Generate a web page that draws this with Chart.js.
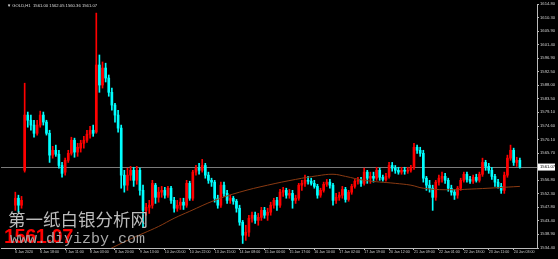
<!DOCTYPE html>
<html>
<head>
<meta charset="utf-8">
<script src="https://cdn.jsdelivr.net/npm/chart.js@4.4.1/dist/chart.umd.min.js"></script>
<style>
    html, body { margin: 0; padding: 0; background: #000; }
    #wrap { position: relative; width: 558px; height: 259px; overflow: hidden; background: #000; }
    #goldChart { position: absolute; left: 0; top: 0; }
    .txt { position: absolute; white-space: nowrap; line-height: 1; }
</style>
</head>
<body>
<div id="wrap">
    <canvas id="goldChart" width="558" height="259"></canvas>
    <div class="txt" style="left:7px;top:3px;font:4.2px 'Liberation Sans';color:#dcdcdc">▼ GOLD,H1&nbsp;&nbsp;1561.00 1562.05 1560.36 1561.07</div>
    <div class="txt" style="left:8px;top:206px;font:17.5px 'Noto Sans CJK SC';color:#bcbcbc">第一纸白银分析网</div>
    <div class="txt" style="left:4px;top:225px;font:bold 20px 'Liberation Sans';color:#ff0000;letter-spacing:-0.5px">1561.07</div>
    <div class="txt" style="left:10px;top:231px;font:15px 'Liberation Mono';color:#a8a8a8">www.diyizby.com</div>
</div>
<script>
// Tijd labels op de horizontale as (elke 8 kaarsen)
var timeLabels = ["6 Jan 2020", "6 Jan 18:00", "7 Jan 11:00", "8 Jan 03:00", "8 Jan 20:00", "9 Jan 13:00",
    "10 Jan 05:00", "10 Jan 22:00", "13 Jan 15:00", "14 Jan 08:00", "15 Jan 00:00", "15 Jan 17:00",
    "16 Jan 10:00", "17 Jan 02:00", "17 Jan 19:00", "20 Jan 12:00", "21 Jan 09:00", "22 Jan 01:00",
    "22 Jan 18:00", "23 Jan 11:00", "24 Jan 03:00"];

// Prijs labels op de verticale as
var priceTicks = [1534.40, 1538.90, 1543.40, 1547.80, 1552.30, 1556.80, 1561.20, 1565.70, 1570.10, 1574.60,
    1579.10, 1583.50, 1588.00, 1592.50, 1596.90, 1601.40, 1605.90, 1610.30, 1614.80];

// Kaarsen: open, hoog, laag, slot
var open = [
    1548.5,1550.8,1548.5,1560.0,1578.2,1576.5,1574.9,1572.2,1574.9,1578.2,
    1575.9,1572.2,1565.0,1566.6,1565.3,1561.6,1559.4,1563.3,1565.6,1569.9,
    1566.0,1567.3,1568.9,1569.9,1571.9,1573.2,1572.6,1594.7,1588.1,1593.7,
    1590.4,1585.7,1581.5,1578.2,1573.9,1558.4,1555.1,1558.4,1560.0,1556.7,
    1560.0,1553.4,1546.8,1547.8,1548.5,1555.1,1551.1,1552.8,1553.4,1551.8,
    1554.1,1550.1,1547.5,1548.5,1549.5,1548.5,1555.7,1550.8,1559.4,1560.7,
    1560.0,1561.6,1558.4,1556.7,1556.1,1550.8,1548.5,1555.1,1552.4,1550.1,
    1550.8,1549.8,1547.5,1542.9,1538.6,1539.6,1544.2,1545.2,1543.5,1544.5,
    1546.8,1545.2,1546.2,1548.5,1550.1,1548.5,1552.8,1553.4,1551.8,1552.4,
    1550.1,1550.8,1555.1,1555.7,1556.7,1556.4,1555.7,1554.7,1551.8,1553.4,
    1555.4,1556.1,1555.1,1550.1,1551.1,1551.8,1553.7,1550.4,1552.8,1554.7,
    1556.4,1556.7,1555.7,1559.4,1557.4,1558.0,1557.4,1560.0,1557.7,1557.0,
    1558.0,1561.6,1560.7,1560.0,1559.4,1560.0,1559.7,1560.0,1561.0,1567.6,
    1566.6,1565.6,1557.4,1555.1,1554.1,1551.1,1556.1,1557.4,1558.0,1556.7,
    1554.1,1552.8,1551.8,1554.1,1556.7,1558.7,1557.0,1556.4,1557.7,1556.7,
    1558.7,1562.6,1561.3,1560.0,1558.0,1556.1,1554.7,1553.4,1558.4,1564.0,
    1566.6,1562.6,1563.3];
var high = [
    1552.8,1551.8,1551.4,1588.7,1579.2,1578.2,1576.5,1576.5,1579.5,1579.2,
    1576.5,1573.2,1567.9,1568.3,1566.6,1562.6,1564.0,1566.6,1570.9,1570.6,
    1568.9,1569.9,1571.2,1573.2,1574.5,1574.9,1611.8,1598.0,1595.7,1595.3,
    1591.4,1587.1,1582.1,1579.8,1574.9,1560.0,1560.7,1561.3,1561.0,1561.3,
    1560.7,1555.1,1549.1,1550.1,1556.7,1555.7,1554.4,1554.7,1554.4,1554.7,
    1554.7,1551.1,1550.1,1550.8,1550.8,1556.7,1556.4,1560.0,1561.6,1562.3,
    1563.6,1562.3,1559.4,1557.4,1556.7,1551.8,1556.1,1556.1,1553.4,1551.8,
    1551.4,1550.4,1548.5,1543.5,1541.9,1545.2,1546.2,1546.2,1545.8,1547.8,
    1547.8,1547.5,1549.5,1550.8,1551.1,1553.7,1554.4,1554.1,1553.7,1553.4,
    1551.8,1555.7,1556.7,1558.4,1558.0,1557.4,1556.7,1555.4,1554.1,1556.1,
    1557.0,1557.0,1555.7,1552.4,1552.8,1554.7,1554.4,1553.4,1555.4,1557.0,
    1557.7,1557.7,1560.7,1560.0,1559.4,1559.4,1561.0,1560.7,1558.4,1559.0,
    1562.6,1562.6,1561.6,1561.0,1561.0,1561.0,1561.0,1561.6,1568.9,1568.3,
    1567.6,1566.6,1558.0,1556.7,1555.1,1556.7,1558.4,1559.4,1559.0,1557.4,
    1555.1,1553.7,1554.7,1557.4,1559.4,1559.4,1558.0,1558.4,1558.7,1559.4,
    1564.0,1563.3,1562.3,1561.0,1558.7,1557.0,1555.7,1559.4,1565.0,1568.3,
    1567.3,1564.3,1564.0];
var low = [
    1546.8,1546.2,1547.5,1559.4,1574.2,1573.2,1570.9,1571.6,1574.2,1574.9,
    1571.6,1562.6,1564.0,1564.6,1560.7,1557.7,1558.4,1562.6,1565.0,1564.3,
    1564.6,1566.0,1567.3,1569.2,1570.6,1571.2,1572.2,1585.7,1587.1,1589.1,
    1584.4,1579.8,1575.9,1572.6,1554.1,1552.8,1553.4,1556.7,1554.7,1555.4,
    1551.8,1541.2,1545.2,1545.8,1547.5,1549.1,1549.5,1551.1,1550.8,1551.1,
    1549.1,1546.2,1546.5,1547.1,1547.1,1547.8,1550.1,1550.1,1558.4,1558.7,
    1559.4,1557.4,1555.7,1554.7,1549.5,1547.5,1547.8,1551.4,1549.1,1549.1,
    1548.8,1546.2,1541.9,1535.9,1536.9,1538.2,1542.9,1542.5,1541.9,1543.5,
    1544.2,1543.5,1545.2,1547.5,1546.8,1547.8,1551.4,1550.8,1550.8,1547.5,
    1549.1,1550.1,1553.4,1554.7,1555.4,1555.1,1554.1,1550.8,1551.1,1552.8,
    1554.7,1554.1,1548.5,1549.1,1550.1,1550.8,1549.5,1549.8,1552.1,1554.1,
    1555.4,1554.7,1555.1,1555.7,1555.7,1556.1,1556.7,1556.7,1556.4,1556.4,
    1557.4,1559.7,1559.0,1558.7,1558.7,1558.7,1559.0,1559.4,1560.3,1565.6,
    1564.6,1556.1,1553.4,1552.8,1546.8,1550.1,1555.1,1556.1,1555.7,1553.1,
    1551.8,1550.4,1550.8,1553.4,1556.1,1556.1,1555.7,1555.7,1556.1,1556.1,
    1558.0,1560.0,1559.0,1557.0,1554.7,1554.1,1552.4,1552.4,1557.7,1563.3,
    1561.6,1561.3,1560.7];
var close = [
    1550.8,1548.5,1550.1,1578.2,1576.5,1574.9,1572.2,1574.9,1578.2,1575.9,
    1572.2,1565.0,1566.6,1565.3,1561.6,1559.0,1563.3,1565.6,1569.9,1566.0,
    1567.6,1568.9,1569.9,1571.9,1573.2,1572.2,1594.7,1588.1,1593.7,1590.4,
    1585.7,1581.5,1578.2,1573.9,1558.4,1555.1,1558.4,1560.0,1556.7,1560.0,
    1553.4,1546.8,1547.8,1548.5,1555.7,1551.1,1552.8,1553.4,1551.8,1554.1,
    1550.1,1547.5,1548.5,1549.5,1548.5,1555.7,1550.8,1559.4,1560.7,1560.0,
    1561.6,1558.4,1556.7,1556.1,1550.8,1548.5,1555.1,1552.4,1550.1,1550.8,
    1549.8,1547.5,1542.9,1538.6,1539.6,1544.2,1545.2,1543.5,1544.5,1546.8,
    1545.2,1546.2,1548.5,1550.1,1548.5,1552.8,1553.4,1551.8,1552.4,1550.1,
    1550.8,1555.1,1555.7,1556.7,1556.4,1555.7,1554.7,1551.8,1553.4,1555.4,
    1556.1,1555.1,1550.1,1551.1,1551.8,1553.7,1550.4,1552.8,1554.7,1556.4,
    1556.7,1555.7,1559.4,1557.4,1558.0,1557.4,1560.0,1557.7,1557.0,1558.0,
    1561.6,1560.7,1560.0,1559.4,1560.0,1559.7,1560.0,1561.0,1567.6,1566.6,
    1565.6,1557.4,1555.1,1554.1,1551.1,1556.1,1557.4,1558.0,1556.7,1554.1,
    1552.8,1551.8,1554.1,1556.7,1558.7,1557.0,1556.4,1557.7,1556.7,1558.7,
    1562.6,1561.3,1560.0,1558.0,1556.1,1554.7,1553.4,1558.4,1564.0,1566.6,
    1562.6,1563.3,1561.07];

var maIndex = [27, 30, 36, 41, 46, 51, 56, 64, 72, 81, 90, 97, 102, 106, 112, 122, 127, 131, 138, 148, 162];
var maValue = [1532.3, 1533.9, 1536.9, 1539.2, 1541.5, 1544.2, 1546.5, 1550.1, 1552.8, 1555.1, 1557.0,
    1558.2, 1558.7, 1558.0, 1556.7, 1555.7, 1555.1, 1554.1, 1553.6, 1553.9, 1554.7];

var upColor = "#ff0000";
var downColor = "#00ffff";
var idx = close.map(function (c, i) { return i; });
var candleColors = idx.map(function (i) { return close[i] >= open[i] ? upColor : downColor; });

// Grijze lijn en wit kader voor de laatste prijs
var bidLine = {
    id: "bidLine",
    beforeDatasetsDraw: function (chart) {
        var c = chart.ctx, a = chart.chartArea;
        var y = Math.round(chart.scales.y.getPixelForValue(close[close.length - 1])) + 0.5;
        c.save();
        c.strokeStyle = "#7a7a7a";
        c.lineWidth = 1;
        c.beginPath();
        c.moveTo(a.left, y);
        c.lineTo(a.right, y);
        c.stroke();
        c.restore();
    },
    afterDraw: function (chart) {
        var c = chart.ctx, a = chart.chartArea;
        var y = chart.scales.y.getPixelForValue(close[close.length - 1]);
        c.save();
        c.fillStyle = "#ffffff";
        c.fillRect(a.right + 1, y - 3.5, 17, 7);
        c.fillStyle = "#000000";
        c.font = "4.2px 'Liberation Sans'";
        c.textBaseline = "middle";
        c.fillText(close[close.length - 1].toFixed(2), a.right + 3, y);
        c.restore();
    }
};

var ctx = document.getElementById("goldChart").getContext("2d");
var goldChart = new Chart(ctx, {
    type: "bar",
    data: {
        datasets: [{
            type: "line",
            data: maIndex.map(function (x, k) { return { x: x, y: maValue[k] }; }),
            borderColor: "#8a3a12",
            borderWidth: 1,
            pointRadius: 0,
            tension: 0.4,
            order: 0
        }, {
            data: idx.map(function (i) { return { x: i, y: [low[i], high[i]] }; }),
            backgroundColor: candleColors,
            barThickness: 1,
            grouped: false,
            order: 2
        }, {
            data: idx.map(function (i) { return { x: i, y: [open[i], close[i]] }; }),
            backgroundColor: candleColors,
            barThickness: 2,
            minBarLength: 1,
            grouped: false,
            order: 1
        }]
    },
    plugins: [bidLine],
    options: {
        responsive: false,
        animation: false,
        layout: { padding: { top: 4, left: 1, right: 0, bottom: 0 } },
        plugins: { legend: { display: false }, tooltip: { enabled: false } },
        scales: {
            x: {
                type: "linear",
                min: -0.5,
                max: 163.4,
                afterBuildTicks: function (s) {
                    s.ticks = timeLabels.map(function (t, k) { return { value: k * 8 }; });
                },
                afterFit: function (s) { s.height = 11; },
                ticks: {
                    autoSkip: false,
                    maxRotation: 0,
                    align: "start",
                    padding: 0,
                    color: "#d0d0d0",
                    font: { family: "Liberation Sans", size: 3.6 },
                    callback: function (v) { return timeLabels[Math.round(v / 8)]; }
                },
                grid: { drawOnChartArea: false, tickLength: 2, color: "#bbbbbb", offset: false },
                border: { color: "#bbbbbb" }
            },
            y: {
                type: "linear",
                position: "right",
                min: 1534.4,
                max: 1614.8,
                afterBuildTicks: function (s) {
                    s.ticks = priceTicks.map(function (v) { return { value: v }; });
                },
                afterFit: function (s) { s.width = 21; },
                ticks: {
                    autoSkip: false,
                    padding: 1,
                    color: "#d0d0d0",
                    font: { family: "Liberation Sans", size: 4.2 },
                    callback: function (v) { return v.toFixed(2); }
                },
                grid: { drawOnChartArea: false, tickLength: 2, color: "#bbbbbb" },
                border: { color: "#bbbbbb" }
            }
        }
    }
});
</script>
</body>
</html>
